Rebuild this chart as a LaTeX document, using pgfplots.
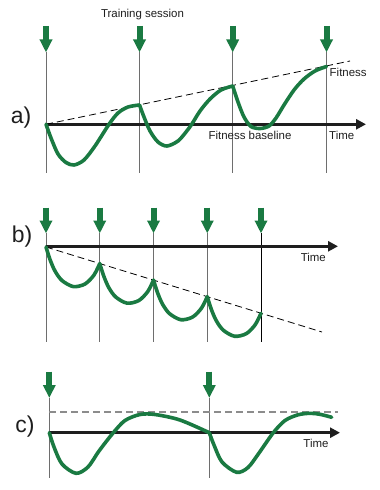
\documentclass[border=0pt]{standalone}
\usepackage{pgfplots}
\pgfplotsset{compat=1.18}
\usepackage{fontspec}
\setmainfont{Liberation Sans}
\usetikzlibrary{arrows.meta}
\definecolor{fitgreen}{RGB}{26,122,66}
\definecolor{vline}{RGB}{110,110,110}
\definecolor{axblack}{RGB}{30,30,30}
\begin{document}
\begin{tikzpicture}
\begin{axis}[scale only axis, width=379bp, height=490bp,
  xmin=0, xmax=379, ymin=0, ymax=490, y dir=reverse,
  hide axis, clip=false]
\addplot[draw=none] coordinates {(0,0) (379,490)};
% ---------- panel a ----------
\addplot[vline, line width=1bp] coordinates {(46,52) (46,173)};
\addplot[vline, line width=1bp] coordinates {(139.5,52) (139.5,173)};
\addplot[vline, line width=1bp] coordinates {(232.7,52) (232.7,173)};
\addplot[vline, line width=1bp] coordinates {(326.5,52) (326.5,173)};
\addplot[fitgreen, line width=6bp, -{Triangle[length=13bp,width=12bp]}] coordinates {(46,26) (46,52.5)};
\addplot[fitgreen, line width=6bp, -{Triangle[length=13bp,width=12bp]}] coordinates {(139.5,26) (139.5,52.5)};
\addplot[fitgreen, line width=6bp, -{Triangle[length=13bp,width=12bp]}] coordinates {(232.7,26) (232.7,52.5)};
\addplot[fitgreen, line width=6bp, -{Triangle[length=13bp,width=12bp]}] coordinates {(326.5,26) (326.5,52.5)};
\addplot[axblack, line width=3bp, -{Triangle[length=10bp,width=10bp]}] coordinates {(46,124.3) (366,124.3)};
\addplot[black, line width=0.8bp, dash pattern=on 7bp off 4bp] coordinates {(46,124.3) (350,61)};
\addplot[fitgreen, line width=3.6bp, smooth, line cap=round] coordinates {
(46,124.3) (51,138) (58,154) (66,162.5) (74,165) (84,160) (95,146)
(109,124.3) (118,113) (128,107) (139.5,105)};
\addplot[fitgreen, line width=3.6bp, smooth, line cap=round] coordinates {
(139.5,105) (144,117) (150,131) (158,142) (167,146) (178,141) (186,132)
(191.7,124.3) (200,111) (210,99) (221,90) (232.7,86)};
\addplot[fitgreen, line width=3.6bp, smooth, line cap=round] coordinates {
(232.7,86) (238,102) (244,117) (251,126.5) (260,128.5) (269,126)
(276,118) (284,105) (294,90) (304,79) (315,71) (326.5,66.5)};
\node[font=\fontsize{11.5}{13}\selectfont, text=axblack] at (axis cs:142.5,15) {Training session};
\node[font=\fontsize{23}{25}\selectfont, text=axblack] at (axis cs:21,118) {a)};
\node[font=\fontsize{11.5}{13}\selectfont, text=axblack] at (axis cs:250,135) {Fitness baseline};
\node[font=\fontsize{11.5}{13}\selectfont, text=axblack, anchor=west, inner xsep=0pt] at (axis cs:329,135) {Time};
\node[font=\fontsize{11.5}{13}\selectfont, text=axblack, anchor=west, inner xsep=0pt] at (axis cs:329.5,72.7) {Fitness};
% ---------- panel b ----------
\addplot[vline, line width=1bp] coordinates {(46,233) (46,341.7)};
\addplot[vline, line width=1bp] coordinates {(99.75,233) (99.75,341.7)};
\addplot[vline, line width=1bp] coordinates {(153.5,233) (153.5,341.7)};
\addplot[vline, line width=1bp] coordinates {(207.25,233) (207.25,341.7)};
\addplot[black, line width=1bp] coordinates {(261,233) (261,341.7)};
\addplot[fitgreen, line width=6bp, -{Triangle[length=13bp,width=12bp]}] coordinates {(46,207.5) (46,233.5)};
\addplot[fitgreen, line width=6bp, -{Triangle[length=13bp,width=12bp]}] coordinates {(99.75,207.5) (99.75,233.5)};
\addplot[fitgreen, line width=6bp, -{Triangle[length=13bp,width=12bp]}] coordinates {(153.5,207.5) (153.5,233.5)};
\addplot[fitgreen, line width=6bp, -{Triangle[length=13bp,width=12bp]}] coordinates {(207.25,207.5) (207.25,233.5)};
\addplot[fitgreen, line width=6bp, -{Triangle[length=13bp,width=12bp]}] coordinates {(261,207.5) (261,233.5)};
\addplot[axblack, line width=3bp, -{Triangle[length=10bp,width=10bp]}] coordinates {(46,246.3) (338,246.3)};
\addplot[black, line width=0.8bp, dash pattern=on 7bp off 4bp] coordinates {(46,247) (322,332)};
\addplot[fitgreen, line width=3.6bp, smooth, line cap=round] coordinates {
(46,247) (50,259.5) (55,271) (62,280.5) (73.3,286.6) (85,284) (94,275) (99.75,263.55)};
\addplot[fitgreen, line width=3.6bp, smooth, line cap=round] coordinates {
(99.75,263.55) (103.75,276.05) (108.75,287.55) (115.75,297.05) (127.05,303.15) (138.75,300.55) (147.75,291.55) (153.5,280.1)};
\addplot[fitgreen, line width=3.6bp, smooth, line cap=round] coordinates {
(153.5,280.1) (157.5,292.6) (162.5,304.1) (169.5,313.6) (180.8,319.7) (192.5,317.1) (201.5,308.1) (207.25,296.65)};
\addplot[fitgreen, line width=3.6bp, smooth, line cap=round] coordinates {
(207.25,296.65) (211.25,309.15) (216.25,320.65) (223.25,330.15) (234.55,336.25) (246.25,333.65) (255.25,324.65) (261,313.2)};
\node[font=\fontsize{23}{25}\selectfont, text=axblack] at (axis cs:22,236.7) {b)};
\node[font=\fontsize{11.5}{13}\selectfont, text=axblack] at (axis cs:313.3,257.3) {Time};
% ---------- panel c ----------
\addplot[vline, line width=1bp] coordinates {(49.3,398) (49.3,478)};
\addplot[vline, line width=1bp] coordinates {(209.3,398) (209.3,478)};
\addplot[fitgreen, line width=6bp, -{Triangle[length=13bp,width=12bp]}] coordinates {(49.3,371.5) (49.3,398)};
\addplot[fitgreen, line width=6bp, -{Triangle[length=13bp,width=12bp]}] coordinates {(209.3,371.5) (209.3,398)};
\addplot[gray!90, line width=1.8bp, dash pattern=on 7bp off 4bp] coordinates {(49.3,411.7) (338,411.7)};
\addplot[axblack, line width=3bp, -{Triangle[length=10bp,width=10bp]}] coordinates {(49.3,432.7) (340,432.7)};
\addplot[fitgreen, line width=3.6bp, smooth, line cap=round] coordinates {
(49.3,432.7) (54,447) (62,464) (76,473.3) (88,467) (99,451)
(113.3,432.7) (125,420.5) (140,414.5) (155,414.5) (180,420) (209.3,432.7)};
\addplot[fitgreen, line width=3.6bp, smooth, line cap=round] coordinates {
(209.3,432.7) (214,445) (222,462) (236.7,472.3) (248,467.5) (259,453)
(273.3,432.7) (285,420.5) (298,414.8) (310,413.3) (320,414.3) (331.7,417.3)};
\node[font=\fontsize{23}{25}\selectfont, text=axblack] at (axis cs:25,426.7) {c)};
\node[font=\fontsize{11.5}{13}\selectfont, text=axblack] at (axis cs:316,443.3) {Time};
\end{axis}
\end{tikzpicture}
\end{document}
